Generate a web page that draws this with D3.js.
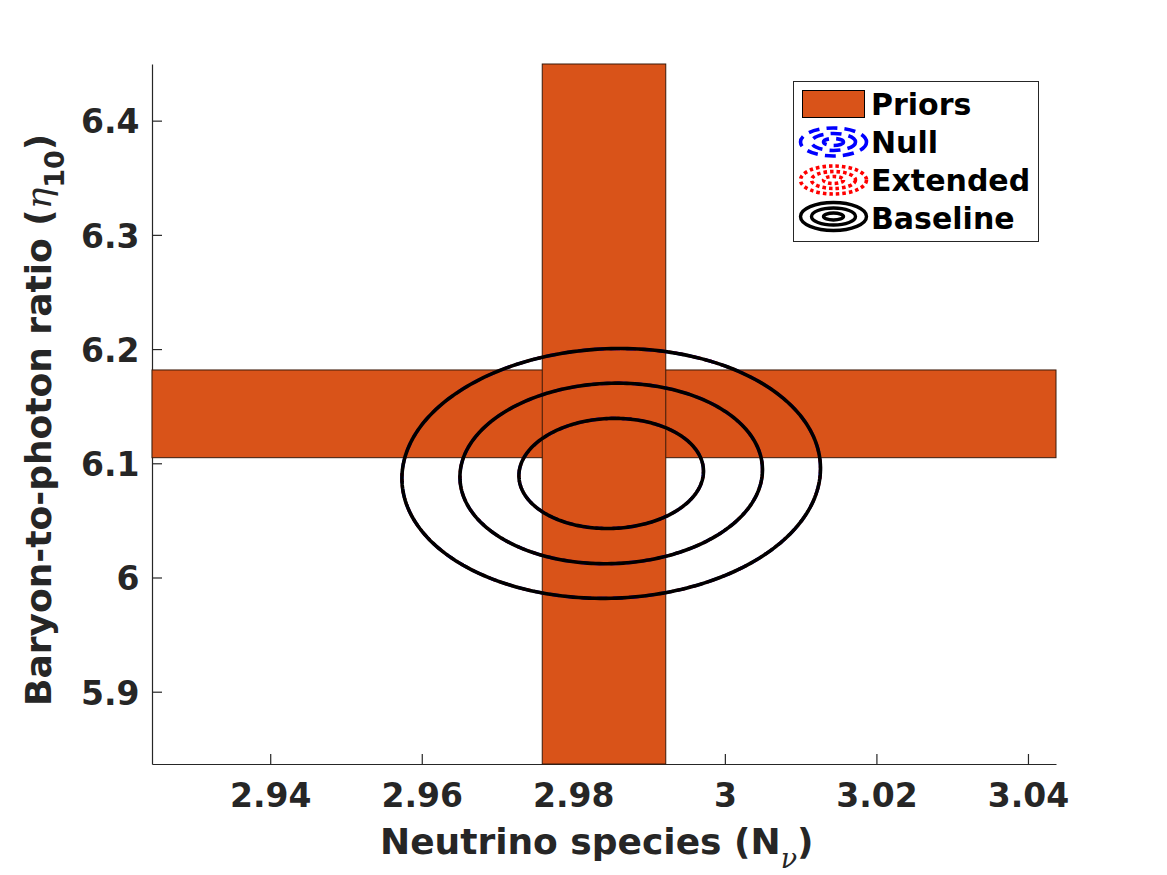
<!DOCTYPE html>
<html>
<head>
<meta charset="utf-8">
<script src="https://cdn.jsdelivr.net/npm/d3@7"></script>
<style>
  html, body { margin: 0; padding: 0; background: #fff; }
  svg { display: block; }
</style>
</head>
<body>
<svg id="chart" width="1167" height="875"></svg>
<script>
// ---------------- data ----------------
const xDomain = [2.9244, 3.0437];          // Neutrino species axis limits
const yDomain = [5.8367, 6.4496];          // eta_10 axis limits
const xTicks = [2.94, 2.96, 2.98, 3.00, 3.02, 3.04];
const xTickLabels = ["2.94", "2.96", "2.98", "3", "3.02", "3.04"];
const yTicks = [5.9, 6.0, 6.1, 6.2, 6.3, 6.4];
const yTickLabels = ["5.9", "6", "6.1", "6.2", "6.3", "6.4"];

// prior bands
const priorNnu = [2.9759, 2.9922];         // vertical band (N_nu range)
const priorEta = [6.1049, 6.1817];         // horizontal band (eta_10 range)

// posterior contours (Gaussian fit) for each analysis
const contourCenter = [2.9850, 6.0911];    // [N_nu, eta_10]
const contourSigma = [0.00803, 0.0318];
const contourRho = 0.04;
const contourChi2 = [2.30, 6.18, 11.83];   // 68.3%, 95.4%, 99.7% levels

const seriesNames = ["Priors", "Null", "Extended", "Baseline"];

// ---------------- layout ----------------
const svg = d3.select("#chart");
const L = 152, R = 1056, T = 64, B = 764;
const x = d3.scaleLinear().domain(xDomain).range([L, R]);
const y = d3.scaleLinear().domain(yDomain).range([B, T]);
const axisColor = "#262626";
const font = "'DejaVu Sans', sans-serif";
const orange = "#D95319";

// axes (drawn under data)
const xAxis = svg.append("g")
  .attr("transform", `translate(0,${B})`)
  .call(d3.axisBottom(x).tickValues(xTicks)
        .tickFormat((d, i) => xTickLabels[i])
        .tickSizeInner(-10).tickSizeOuter(0));
const yAxis = svg.append("g")
  .attr("transform", `translate(${L},0)`)
  .call(d3.axisLeft(y).tickValues(yTicks)
        .tickFormat((d, i) => yTickLabels[i])
        .tickSizeInner(-10).tickSizeOuter(0));
[xAxis, yAxis].forEach(g => {
  g.select(".domain").attr("stroke", axisColor).attr("stroke-width", 1.2);
  g.selectAll(".tick line").attr("stroke", axisColor).attr("stroke-width", 1.2);
  g.selectAll("text").attr("fill", axisColor)
    .style("font-family", font).style("font-weight", "bold").style("font-size", "33px");
});
xAxis.selectAll("text").attr("y", 43).attr("dy", 0);
yAxis.selectAll("text").attr("x", -12.5).attr("dy", 0).attr("y", 12.3);

// prior bands
const bands = svg.append("g");
bands.append("rect")
  .attr("x", x(xDomain[0])).attr("width", x(xDomain[1]) - x(xDomain[0]))
  .attr("y", y(priorEta[1])).attr("height", y(priorEta[0]) - y(priorEta[1]))
  .attr("fill", orange).attr("stroke", "#3a1a0a").attr("stroke-width", 1);
bands.append("rect")
  .attr("x", x(priorNnu[0])).attr("width", x(priorNnu[1]) - x(priorNnu[0]))
  .attr("y", y(yDomain[1])).attr("height", y(yDomain[0]) - y(yDomain[1]))
  .attr("fill", orange).attr("stroke", "#3a1a0a").attr("stroke-width", 1);

// contour ellipses
function ellipsePoints(c) {
  const s = Math.sqrt(c);
  const pts = [];
  const n = 240;
  for (let k = 0; k <= n; k++) {
    const t = 2 * Math.PI * k / n;
    const dx = s * contourSigma[0] * Math.cos(t);
    const dy = s * contourSigma[1] * (contourRho * Math.cos(t) + Math.sqrt(1 - contourRho * contourRho) * Math.sin(t));
    pts.push([contourCenter[0] + dx, contourCenter[1] + dy]);
  }
  return pts;
}
const line = d3.line().x(d => x(d[0])).y(d => y(d[1]));
const contours = svg.append("g").attr("fill", "none");
const styles = [
  { color: "#0000ff", width: 3.2, dash: "10,6" },
  { color: "#ff0000", width: 3.2, dash: "3,3" },
  { color: "#000000", width: 3.6, dash: null }
];
styles.forEach(st => {
  contourChi2.forEach(c => {
    contours.append("path")
      .attr("d", line(ellipsePoints(c)))
      .attr("stroke", st.color).attr("stroke-width", st.width)
      .attr("stroke-dasharray", st.dash);
  });
});

// legend
const lg = svg.append("g");
lg.append("rect").attr("x", 793.5).attr("y", 81.5).attr("width", 245).attr("height", 160)
  .attr("fill", "#fff").attr("stroke", axisColor).attr("stroke-width", 1);
const rowBase = [115, 153, 190.5, 229];
seriesNames.forEach((name, i) => {
  lg.append("text").attr("x", 871).attr("y", rowBase[i]).text(name)
    .attr("fill", "#000").style("font-family", font).style("font-weight", "bold").style("font-size", "30px");
});
lg.append("rect").attr("x", 802.5).attr("y", 90.5).attr("width", 62).attr("height", 27)
  .attr("fill", orange).attr("stroke", "#000").attr("stroke-width", 1);
const iconRings = [[33, 14], [22, 8.5], [10, 3.5]];
const iconCx = 833.5;
const iconRows = [
  { cy: 142, color: "#0000ff", dash: "11,7", w: 3.6 },
  { cy: 180, color: "#ff0000", dash: "3.5,3", w: 3.6 },
  { cy: 216.5, color: "#000", dash: null, w: 3.4 }
];
iconRows.forEach(r => {
  iconRings.forEach(rr => {
    lg.append("ellipse").attr("cx", iconCx).attr("cy", r.cy).attr("rx", rr[0]).attr("ry", rr[1])
      .attr("fill", "none").attr("stroke", r.color).attr("stroke-width", r.w)
      .attr("stroke-dasharray", r.dash);
  });
});

// axis labels
const xl = svg.append("text").attr("x", 380).attr("y", 854)
  .attr("fill", axisColor).style("font-family", font).style("font-weight", "bold").style("font-size", "36px");
xl.append("tspan").text("Neutrino species (N");
xl.append("tspan").text("ν").attr("dy", 14).style("font-family", "'DejaVu Serif', serif")
  .style("font-style", "italic").style("font-weight", "normal").style("font-size", "27px");
xl.append("tspan").text(")").attr("dy", -14);

const yl = svg.append("text").attr("transform", "translate(51,706) rotate(-90)")
  .attr("fill", axisColor).style("font-family", font).style("font-weight", "bold").style("font-size", "36px");
yl.append("tspan").text("Baryon-to-photon ratio (");
yl.append("tspan").text("η").style("font-family", "'DejaVu Serif', serif")
  .style("font-style", "italic").style("font-weight", "normal");
yl.append("tspan").text("10").attr("dy", 13).style("font-size", "27px");
yl.append("tspan").text(")").attr("dy", -13);
</script>
</body>
</html>
